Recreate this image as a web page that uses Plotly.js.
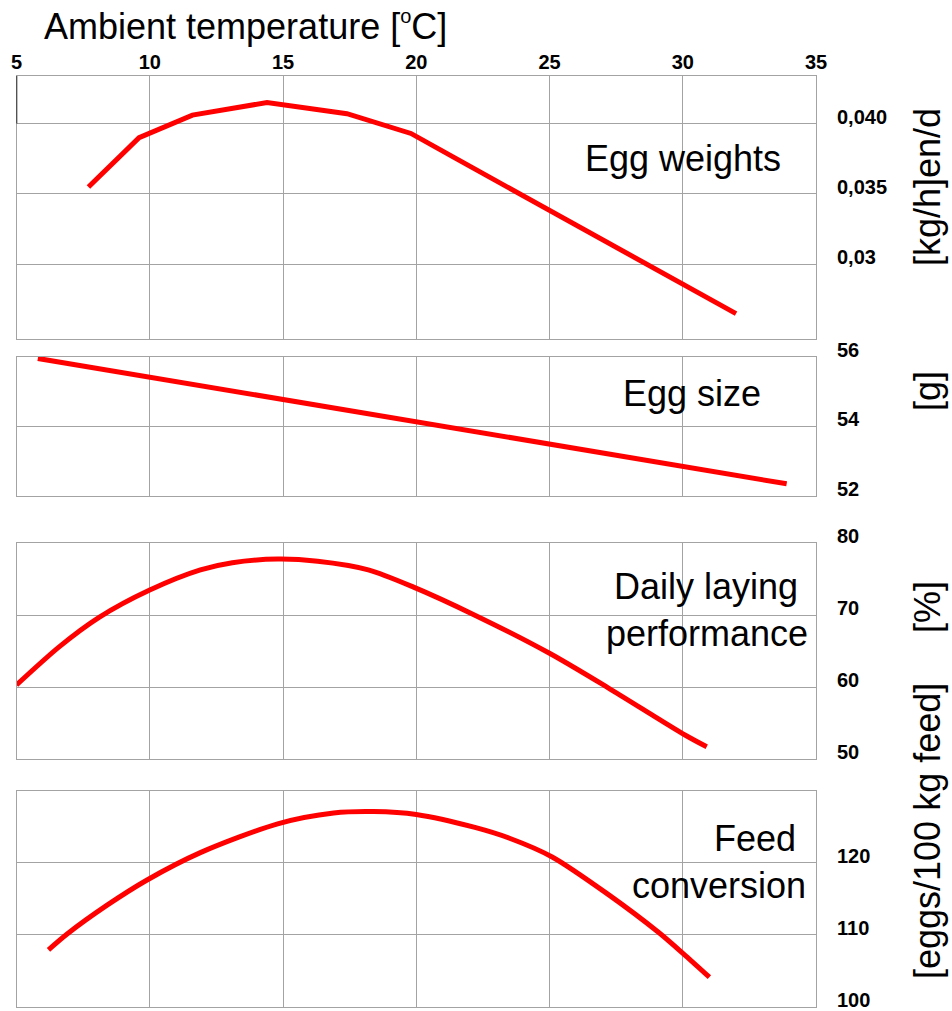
<!DOCTYPE html>
<html>
<head>
<meta charset="utf-8">
<script src="https://cdn.plot.ly/plotly-3.0.1.min.js"></script>
<style>
  html, body { margin: 0; padding: 0; background: #fff; }
  #chart { width: 952px; height: 1011px; }
</style>
</head>
<body>
<div id="chart"></div>
<script>
// Ambient temperature (°C) on the shared horizontal axis
const tempTicks = [5, 10, 15, 20, 25, 30, 35];

// Egg weights [kg/hen/d]
const eggWeightTemp = [7.7, 9.6, 11.6, 14.4, 17.4, 19.8, 21.6, 32.0];
const eggWeightKg = [0.0355, 0.0390, 0.0406, 0.0415, 0.0407, 0.0393, 0.0374, 0.0265];
const eggWeightTicks = [0.030, 0.035, 0.040];
const eggWeightTickText = ['0,03', '0,035', '0,040'];

// Egg size [g]
const eggSizeTemp = [5.8, 33.9];
const eggSizeG = [55.95, 52.35];
const eggSizeTicks = [52, 54, 56];

// Daily laying performance [%]
const layingTemp = [5.0, 6.6, 8.1, 10.0, 11.9, 13.1, 14.8, 16.3, 18.2, 19.9, 22.2, 25.0, 27.2, 30.1, 30.9];
const layingPct = [60.3, 65.6, 69.7, 73.5, 76.3, 77.3, 77.8, 77.5, 76.3, 73.9, 70.0, 64.7, 59.9, 53.3, 51.7];
const layingTicks = [50, 60, 70, 80];

// Feed conversion [eggs/100 kg feed]
const feedTemp = [6.2, 6.9, 8.4, 9.9, 11.9, 14.8, 16.9, 18.4, 20.0, 22.2, 23.5, 25.1, 27.2, 29.1, 30.1, 31.0];
const feedEggs = [107.9, 110.1, 114.1, 117.6, 121.4, 125.4, 126.9, 127.1, 126.7, 124.9, 123.4, 120.8, 115.6, 110.3, 107.1, 104.1];
const feedTicks = [100, 110, 120];

const W = 952, H = 1011;
const px = v => v / W;          // horizontal pixel -> paper fraction
const py = v => 1 - v / H;      // vertical pixel (from top) -> paper fraction

const FONT = 'Arial, "Liberation Sans", sans-serif';
const GRID = '#a3a3a3';
const RED = '#ff0000';

const xDomain = [px(16.5), px(816)];

function curve(x, y, xa, ya, shape) {
  return {
    x: x, y: y, xaxis: xa, yaxis: ya,
    type: 'scatter', mode: 'lines',
    line: shape === 'spline'
      ? { color: RED, width: 5, shape: 'spline', smoothing: 0.8 }
      : { color: RED, width: 5 },
    hoverinfo: 'skip'
  };
}

const data = [
  curve(eggWeightTemp, eggWeightKg, 'x', 'y', 'linear'),
  curve(eggSizeTemp, eggSizeG, 'x2', 'y2', 'linear'),
  curve(layingTemp, layingPct, 'x3', 'y3', 'spline'),
  curve(feedTemp, feedEggs, 'x4', 'y4', 'spline')
];

function xAxis(anchor, labels) {
  return {
    domain: xDomain, anchor: anchor, range: [5, 35],
    tickmode: 'array', tickvals: tempTicks,
    showticklabels: labels, side: 'top', ticks: '',
    tickfont: { family: FONT, size: 20, weight: 'bold', color: '#000' },
    ticklabelstandoff: -2,
    showgrid: true, gridcolor: GRID, gridwidth: 1,
    showline: true, mirror: true, linecolor: GRID, linewidth: 1,
    zeroline: false, fixedrange: true, automargin: false
  };
}

function yAxis(anchor, top, bottom, range, ticks, text) {
  const ax = {
    domain: [py(bottom), py(top)], anchor: anchor, range: range,
    side: 'right', tickmode: 'array', tickvals: ticks, ticks: '',
    tickfont: { family: FONT, size: 20, weight: 'bold', color: '#000' },
    ticklabelshift: -7, ticklabelstandoff: 16,
    showgrid: true, gridcolor: GRID, gridwidth: 1,
    showline: true, mirror: true, linecolor: GRID, linewidth: 1,
    zeroline: false, fixedrange: true, automargin: false
  };
  if (text) ax.ticktext = text;
  return ax;
}

function sideLabel(text, yCenter) {
  return {
    text: text, xref: 'paper', yref: 'paper',
    x: px(927), y: py(yCenter), xanchor: 'center', yanchor: 'middle',
    textangle: -90, showarrow: false,
    font: { family: FONT, size: 36, color: '#000' }
  };
}

function panelLabel(text, xRight, yCenter) {
  return {
    text: text, xref: 'paper', yref: 'paper',
    x: px(xRight), y: py(yCenter), xanchor: 'right', yanchor: 'middle',
    align: 'right', showarrow: false,
    font: { family: FONT, size: 36, color: '#000' }
  };
}

const layout = {
  width: W, height: H,
  margin: { l: 0, r: 0, t: 0, b: 0 },
  paper_bgcolor: '#fff', plot_bgcolor: '#fff',
  showlegend: false,
  font: { family: FONT, color: '#000' },
  title: {
    text: 'Ambient temperature [<sup><span style="font-size:20px">o</span></sup>C]',
    x: px(44), xanchor: 'left', xref: 'container',
    y: py(26), yanchor: 'middle', yref: 'container',
    font: { family: FONT, size: 36, color: '#000' }
  },
  xaxis: xAxis('y', true),
  xaxis2: xAxis('y2', false),
  xaxis3: xAxis('y3', false),
  xaxis4: xAxis('y4', false),
  yaxis: yAxis('x', 76, 339, [0.0247, 0.04338], eggWeightTicks, eggWeightTickText),
  yaxis2: yAxis('x2', 356.7, 496, [52, 56], eggSizeTicks),
  yaxis3: yAxis('x3', 543.3, 759, [50, 80], layingTicks),
  yaxis4: yAxis('x4', 790.7, 1006.7, [100, 130], feedTicks),
  shapes: [
    { type: 'line', xref: 'x', yref: 'y', x0: 5, x1: 5, y0: 0.040, y1: 0.04338,
      line: { color: '#000', width: 1.5 } }
  ],
  annotations: [
    panelLabel('Egg weights', 783, 158),
    panelLabel('Egg size', 763, 393),
    panelLabel('Daily laying\u00a0<br>performance', 810, 610),
    panelLabel('Feed\u00a0<br>conversion', 808, 862),
    sideLabel('[kg/h]en/d', 187),
    sideLabel('[g]', 391),
    sideLabel('[%]', 607),
    sideLabel('[eggs/100 kg feed]', 831)
  ]
};

Plotly.newPlot('chart', data, layout, { displayModeBar: false, staticPlot: true });
</script>
</body>
</html>
